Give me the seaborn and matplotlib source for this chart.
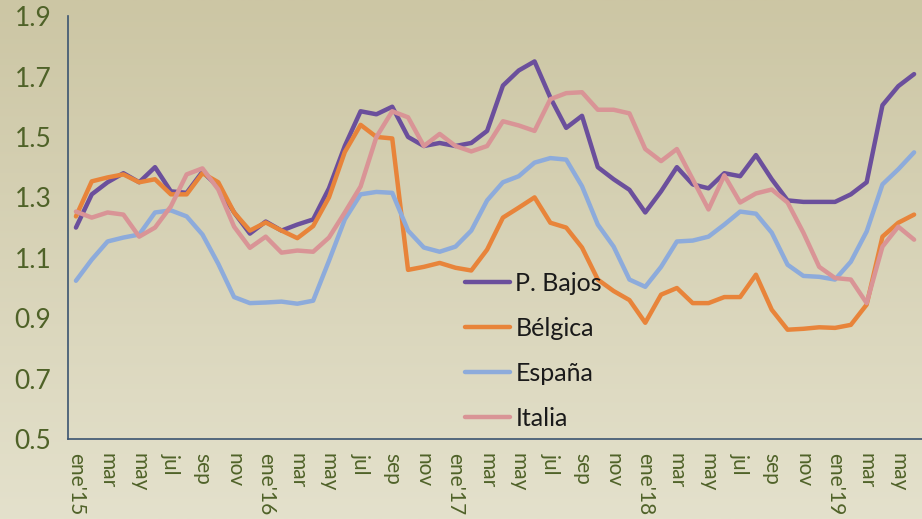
import numpy as np
import pandas as pd
import seaborn as sns
import matplotlib.pyplot as plt
from matplotlib.colors import LinearSegmentedColormap

# monthly data, ene'15 .. jun'19
meses = ['ene', 'feb', 'mar', 'abr', 'may', 'jun', 'jul', 'ago', 'sep', 'oct', 'nov', 'dic']
n = 54

p_bajos = [1.20, 1.31, 1.35, 1.38, 1.35, 1.40, 1.32, 1.315, 1.385, 1.335, 1.25, 1.18,
           1.22, 1.19, 1.21, 1.227, 1.33, 1.47, 1.585, 1.575, 1.60, 1.50, 1.47, 1.48,
           1.47, 1.48, 1.52, 1.67, 1.72, 1.75, 1.63, 1.53, 1.57, 1.40, 1.36, 1.325,
           1.25, 1.32, 1.40, 1.343, 1.33, 1.38, 1.37, 1.44, 1.36, 1.29, 1.285, 1.285,
           1.285, 1.31, 1.35, 1.605, 1.668, 1.708]
belgica = [1.237, 1.353, 1.366, 1.376, 1.35, 1.36, 1.31, 1.31, 1.38, 1.35, 1.25, 1.19,
           1.217, 1.19, 1.165, 1.205, 1.30, 1.45, 1.54, 1.50, 1.495, 1.06, 1.07, 1.083,
           1.067, 1.058, 1.127, 1.233, 1.266, 1.30, 1.216, 1.20, 1.134, 1.028, 0.99, 0.96,
           0.885, 0.978, 1.0, 0.95, 0.95, 0.97, 0.97, 1.044, 0.928, 0.862, 0.865, 0.87,
           0.868, 0.878, 0.945, 1.17, 1.216, 1.243]
espana = [1.024, 1.094, 1.154, 1.167, 1.177, 1.25, 1.257, 1.237, 1.177, 1.08, 0.97, 0.95,
          0.952, 0.955, 0.948, 0.958, 1.09, 1.227, 1.31, 1.318, 1.315, 1.19, 1.134, 1.12,
          1.137, 1.19, 1.29, 1.35, 1.37, 1.415, 1.43, 1.425, 1.337, 1.21, 1.137, 1.028,
          1.004, 1.07, 1.154, 1.157, 1.17, 1.21, 1.253, 1.246, 1.183, 1.077, 1.04, 1.037,
          1.028, 1.087, 1.187, 1.343, 1.393, 1.449]
italia = [1.253, 1.233, 1.25, 1.243, 1.17, 1.20, 1.27, 1.376, 1.396, 1.326, 1.203, 1.133,
          1.17, 1.117, 1.124, 1.12, 1.167, 1.25, 1.336, 1.50, 1.585, 1.565, 1.47, 1.51,
          1.47, 1.452, 1.47, 1.552, 1.538, 1.52, 1.625, 1.645, 1.648, 1.59, 1.59, 1.578,
          1.46, 1.42, 1.46, 1.36, 1.26, 1.373, 1.283, 1.313, 1.326, 1.283, 1.183, 1.07,
          1.033, 1.028, 0.95, 1.137, 1.203, 1.16]

paises = ['P. Bajos', 'Bélgica', 'España', 'Italia']
colores = ['#6B4F9C', '#E8843A', '#8DABDB', '#D99496']

# tick labels every two months
etiquetas = []
for i in range(0, n, 2):
    m = meses[i % 12]
    if i % 12 == 0:
        m = m + "'" + str(15 + i // 12)
    etiquetas.append(m)

df = pd.DataFrame({
    'mes': list(range(n)) * 4,
    'valor': p_bajos + belgica + espana + italia,
    'pais': [p for p in paises for _ in range(n)],
})

sns.set_style('white')
plt.rcParams['font.family'] = ['Lato', 'DejaVu Sans']

fig = plt.figure(figsize=(9.22, 5.19), dpi=100)

# gradient background
bg = fig.add_axes([0, 0, 1, 1], zorder=-1)
cmap = LinearSegmentedColormap.from_list('bg', ['#CCC6A4', '#E4E1CC'])
bg.imshow(np.linspace(0, 1, 256).reshape(-1, 1), aspect='auto', cmap=cmap,
          extent=[0, 1, 0, 1])
bg.axis('off')

ax = fig.add_axes([0.0738, 0.154, 0.9262, 0.815])
ax.patch.set_alpha(0)

sns.lineplot(data=df, x='mes', y='valor', hue='pais', hue_order=paises,
             palette=colores, linewidth=3.2, ax=ax, legend=False)

ax.set_xlim(-0.5, n - 0.5)
ax.set_ylim(0.5, 1.9)
ax.set_yticks([0.5, 0.7, 0.9, 1.1, 1.3, 1.5, 1.7, 1.9])
ax.set_yticklabels(['0.5', '0.7', '0.9', '1.1', '1.3', '1.5', '1.7', '1.9'])

ax.set_xticks(np.arange(-0.5, n, 1.0))
ax.set_xticklabels([])
ax.set_xticks(np.arange(0, n, 2), minor=True)
ax.set_xticklabels(etiquetas, minor=True, rotation=-90, va='top', ha='center')
ax.tick_params(axis='x', which='major', length=6, width=1.2, color='#3B5470',
               direction='out')
ax.tick_params(axis='x', which='minor', length=0, pad=10, labelsize=15,
               labelcolor='#4F6228')
ax.tick_params(axis='y', length=6, width=1.2, color='#3B5470', direction='out',
               labelsize=19, labelcolor='#4F6228', pad=6)

for s in ['top', 'right']:
    ax.spines[s].set_visible(False)
for s in ['left', 'bottom']:
    ax.spines[s].set_color('#3B5470')
    ax.spines[s].set_linewidth(1.2)

ax.set_xlabel('')
ax.set_ylabel('')

handles = [plt.Line2D([], [], color=c, lw=3.2) for c in colores]
ax.legend(handles, paises, loc='upper left', bbox_to_anchor=(0.439, 0.449),
          frameon=False, fontsize=18, handlelength=1.8, handletextpad=0.2,
          labelspacing=0.88, labelcolor='#1A1A1A')

plt.savefig('out.png', dpi=100)
